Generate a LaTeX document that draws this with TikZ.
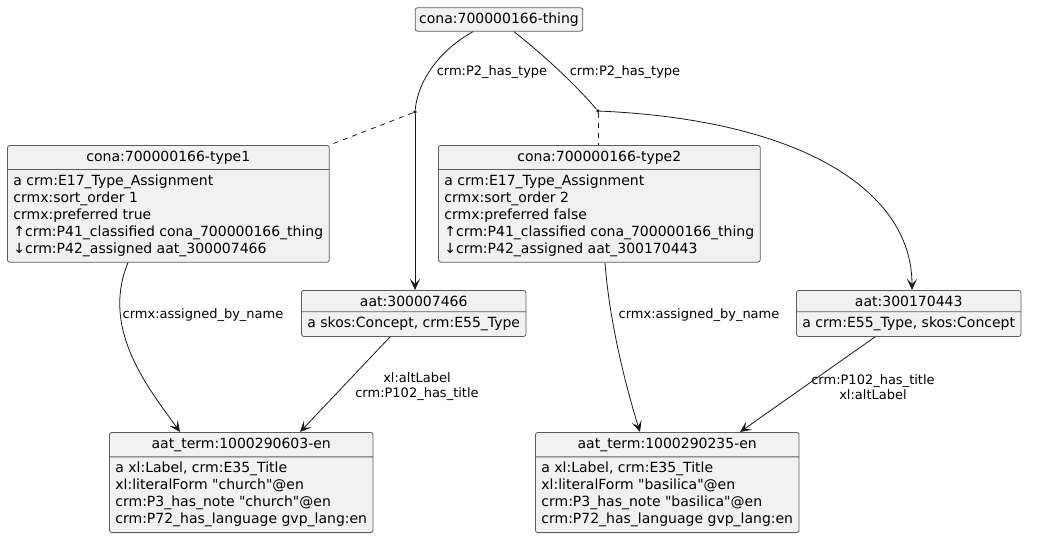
\documentclass[tikz,border=0pt]{standalone}
\usepackage{fontspec}
\setmainfont{DejaVu Sans}
\usetikzlibrary{arrows.meta,shapes.multipart}
\definecolor{boxfill}{HTML}{F1F1F1}
\definecolor{boxline}{HTML}{181818}
\begin{document}
\begin{tikzpicture}[x=1pt,y=-1pt,line width=0.8pt,
    obj/.style={rectangle split,rectangle split parts=2,draw=boxline!70,fill=boxfill,
      rounded corners=2.5pt,rectangle split part align={center,left},align=left,
      inner xsep=6pt,inner ysep=5pt,font=\fontsize{14}{17}\selectfont,anchor=north west},
    lone/.style={draw=boxline!70,fill=boxfill,rounded corners=2.5pt,inner xsep=4pt,
      inner ysep=5pt,font=\fontsize{14}{17}\selectfont},
    jnc/.style={circle,fill=boxline,inner sep=1.3pt},
    rel/.style={draw=boxline,-{Stealth[length=11pt,width=10pt,inset=5pt]}},
    lnk/.style={draw=boxline,dash pattern=on 5pt off 5pt},
    lbl/.style={font=\fontsize{13}{15}\selectfont,align=center}]
  \useasboundingbox (0,0) rectangle (1037,546);
  % the subject and its two type assignments
  \node[lone] (thing) at (499,19.5) {cona:700000166-thing};
  \node[jnc] (j1) at (415,112) {};
  \node[jnc] (j2) at (598,111) {};
  \node[obj] (type1) at (7,145) {cona:700000166-type1
    \nodepart{two}a crm:E17\_Type\_Assignment\\crmx:sort\_order 1\\crmx:preferred true\\
    ↑crm:P41\_classified cona\_700000166\_thing\\↓crm:P42\_assigned aat\_300007466};
  \node[obj] (type2) at (438,145) {cona:700000166-type2
    \nodepart{two}a crm:E17\_Type\_Assignment\\crmx:sort\_order 2\\crmx:preferred false\\
    ↑crm:P41\_classified cona\_700000166\_thing\\↓crm:P42\_assigned aat\_300170443};
  % the types
  \node[obj] (aat1) at (301,290) {aat:300007466
    \nodepart{two}a skos:Concept, crm:E55\_Type};
  \node[obj] (aat2) at (796,290) {aat:300170443
    \nodepart{two}a crm:E55\_Type, skos:Concept};
  % the labels
  \node[obj] (term1) at (109,432) {aat\_term:1000290603-en
    \nodepart{two}a xl:Label, crm:E35\_Title\\xl:literalForm \textquotedbl church\textquotedbl @en\\
    crm:P3\_has\_note \textquotedbl church\textquotedbl @en\\crm:P72\_has\_language gvp\_lang:en};
  \node[obj] (term2) at (535,432) {aat\_term:1000290235-en
    \nodepart{two}a xl:Label, crm:E35\_Title\\xl:literalForm \textquotedbl basilica\textquotedbl @en\\
    crm:P3\_has\_note \textquotedbl basilica\textquotedbl @en\\crm:P72\_has\_language gvp\_lang:en};
  % edges
  \draw[boxline] (thing.south -| 473,0) .. controls (440,50) and (418,80) .. (j1);
  \draw[boxline] (thing.south -| 514,0) .. controls (550,60) and (580,90) .. (j2);
  \node[lbl] at (492,72) {crm:P2\_has\_type};
  \node[lbl] at (625,72) {crm:P2\_has\_type};
  \draw[lnk] (j1) -- (type1.north east);
  \draw[lnk] (j2) -- (j2 |- type2.north);
  \draw[rel] (j1) -- (j1 |- aat1.north);
  \draw[rel] (j2) .. controls (800,120) and (912,190) .. (aat2.north -| 912,0);
  \draw[rel] (type1.south -| 128,0) .. controls (100,330) and (150,390) .. (term1.north -| 180,0);
  \node[lbl] at (203,315) {crmx:assigned\_by\_name};
  \draw[rel] (type2.south -| 605,0) .. controls (610,330) and (630,400) .. (term2.north -| 640,0);
  \node[lbl] at (699,315) {crmx:assigned\_by\_name};
  \draw[rel] (aat1.south -| 390,0) -- (term1.north -| 300,0);
  \node[lbl] at (417,387) {xl:altLabel\\crm:P102\_has\_title};
  \draw[rel] (aat2.south -| 875,0) -- (term2.north -| 740,0);
  \node[lbl] at (873,387) {crm:P102\_has\_title\\xl:altLabel};
\end{tikzpicture}
\end{document}
